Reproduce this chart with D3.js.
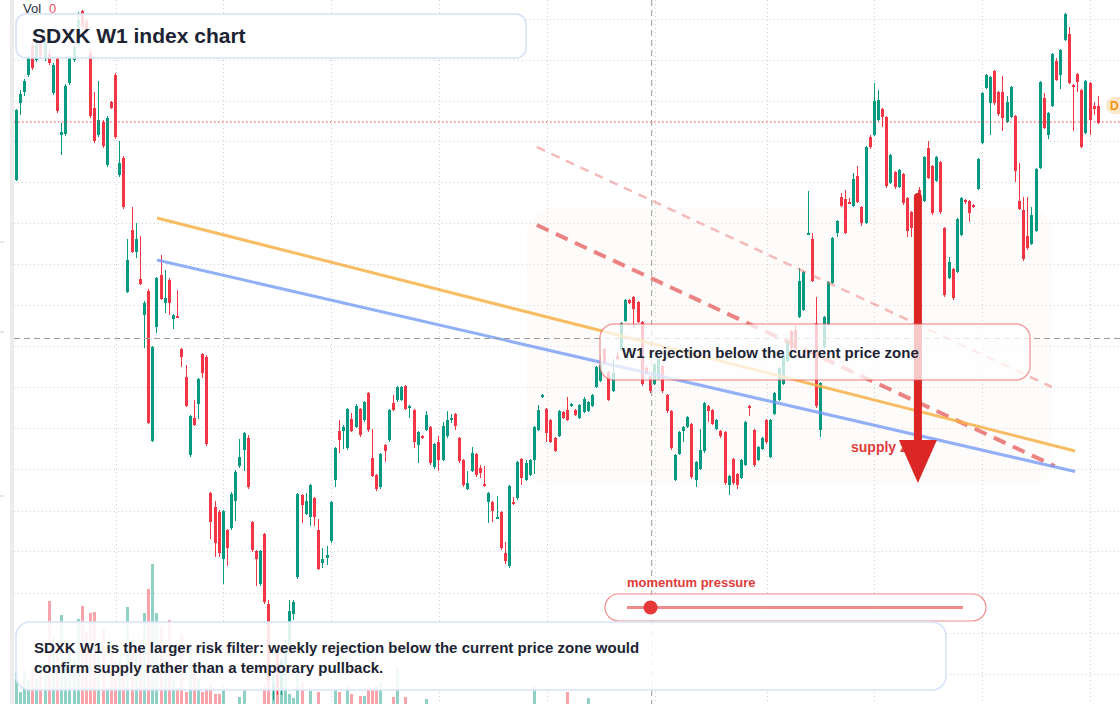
<!DOCTYPE html>
<html>
<head>
<meta charset="utf-8">
<script src="https://cdn.jsdelivr.net/npm/d3@7"></script>
<style>
  body { margin: 0; background: #fff; }
  svg { display: block; }
</style>
</head>
<body>
<div id="chart"></div>
<script>
// weekly candles, oldest first
const open = [820,897,908,925,955,940,958,942,946,907,942,865,866,917,940,955,989,979,948,892,
865,878,835,898,925,825,842,708,770,748,721,685,709,559,673,725,697,720,681,684,
651,623,545,582,596,646,643,507,493,488,441,470,472,499,534,550,562,478,449,416,
466,396,310,350,310,335,355,386,423,505,486,483,502,470,437,442,459,520,569,569,
552,581,573,591,580,607,542,525,513,555,560,597,600,600,614,592,590,555,564,570,
573,533,558,540,564,580,586,562,540,511,529,546,532,516,498,498,482,488,447,434,
498,502,541,520,525,540,570,603,591,580,562,564,588,590,594,590,582,588,589,594,
613,619,651,628,609,644,650,679,700,703,698,678,632,623,616,621,634,605,589,520,
546,569,573,576,520,531,549,594,590,571,569,568,515,541,526,522,535,594,570,540,
551,580,543,586,600,616,639,669,670,683,690,766,761,677,570,653,675,717,767,803,
801,798,794,824,793,777,863,865,880,891,883,817,828,813,826,802,788,800,810,799,
852,834,819,838,772,722,731,728,765,800,799,795,811,857,912,897,929,908,908,878,
883,884,799,790,764,756,769,832,902,865,894,939,925,960,966,915,926,910,867,917,
894,894];
const high = [891,910,921,945,958,960,962,961,950,937,945,877,916,944,956,988,990,981,950,908,
919,880,884,899,927,859,844,761,793,777,764,699,711,654,723,745,730,722,686,710,
652,635,585,600,622,647,645,508,499,490,490,471,508,530,561,568,565,479,450,450,
467,400,325,355,345,360,400,400,507,506,507,516,503,481,452,454,499,553,580,575,
592,587,596,592,599,608,571,526,547,556,591,605,614,614,615,595,591,569,565,589,
574,557,564,578,589,586,587,563,541,529,553,547,535,534,508,499,504,489,458,515,
503,539,542,540,541,574,595,606,592,581,563,590,589,603,597,591,596,603,599,606,
634,643,652,629,641,648,678,701,701,704,699,679,634,624,637,642,635,606,590,546,
569,574,584,577,539,571,598,595,591,581,570,569,525,542,527,541,579,595,571,554,
563,581,581,608,633,646,660,670,675,732,729,809,767,703,618,684,719,763,780,807,
810,802,827,834,794,854,865,917,910,892,884,846,829,831,827,803,789,805,813,844,
859,835,844,839,773,743,732,782,803,801,800,796,842,908,926,924,930,909,924,904,
914,885,837,803,803,793,832,919,907,888,947,942,951,987,973,916,927,911,920,918,
898,904];
const low = [819,885,904,923,930,938,942,939,935,905,887,845,864,915,938,953,970,965,882,857,
863,852,833,891,861,823,791,707,747,742,715,652,576,558,667,700,687,685,671,682,
633,593,543,574,581,622,554,461,443,443,416,434,470,479,532,529,511,448,414,414,
396,310,300,305,305,330,350,380,421,477,485,474,474,430,432,435,457,513,547,551,
550,568,572,563,578,568,523,509,511,538,558,589,598,599,590,582,552,537,561,569,
535,531,529,539,562,577,570,537,513,510,528,523,522,513,477,478,481,450,436,432,
495,500,515,519,524,526,569,602,558,557,548,563,581,579,593,584,581,587,588,593,
612,618,635,599,608,640,649,678,696,673,677,614,625,607,615,620,607,587,550,519,
545,558,572,521,513,530,547,578,575,570,562,515,505,515,511,521,534,584,533,539,
550,556,542,585,599,615,638,650,649,682,689,765,718,592,563,652,674,716,763,793,
766,796,793,797,774,776,851,864,879,873,812,816,811,812,795,763,763,773,783,798,
821,785,818,786,703,721,700,727,764,796,778,792,810,856,911,865,895,884,869,877,
882,818,790,739,750,755,768,831,871,861,893,919,911,959,916,869,908,852,866,865,
885,876];
const close = [890,906,919,942,932,956,945,958,937,935,889,868,914,942,953,980,973,967,884,859,
880,854,882,892,863,837,793,740,748,761,716,697,577,653,722,701,702,697,685,683,
643,594,584,575,621,627,556,478,457,447,489,452,506,528,543,567,513,450,441,449,
398,320,317,312,340,355,389,398,506,495,499,515,483,431,441,445,498,552,560,573,
591,569,594,565,598,570,524,511,546,549,590,590,613,613,591,594,558,568,562,585,
537,556,540,574,580,582,574,539,515,517,547,525,527,514,507,489,483,452,439,514,
496,538,522,537,540,573,590,605,567,558,549,589,582,580,596,585,595,601,598,605,
633,635,636,600,627,641,677,700,697,691,678,616,627,609,636,641,609,589,552,545,
568,573,583,523,538,550,597,589,576,580,564,517,524,517,515,540,578,592,535,553,
562,558,580,607,632,645,659,652,651,719,728,767,719,594,617,683,718,762,779,794,
767,797,821,798,777,853,853,899,900,883,814,845,813,830,797,769,772,775,785,843,
822,787,843,788,705,738,702,781,802,798,787,793,841,907,925,923,897,886,882,898,
913,829,791,741,752,785,831,918,872,887,946,920,950,986,917,913,918,853,919,880,
891,877];
const volume = [320,120,330,240,340,250,340,390,1030,670,560,890,390,540,460,850,980,730,910,920,
560,760,170,510,440,460,390,970,640,540,620,910,1150,1400,910,770,440,840,250,160,
700,120,540,440,250,120,170,210,100,100,190,0,0,0,70,150,0,0,0,0,
190,400,300,500,220,460,100,60,340,220,0,130,0,120,0,0,0,140,120,0,
180,100,0,80,80,180,140,180,210,0,0,70,360,0,70,0,0,0,0,50,
0,0,0,0,0,0,0,0,0,0,0,0,0,0,0,0,0,0,0,0,
0,0,0,0,0,180,0,0,0,0,0,0,0,120,0,0,0,0,60,0,
0,0,0,0,0,0,0,0,0,0,0,0,0,0,0,0,0,0,0,0,
0,0,0,0,0,0,0,0,0,0,0,0,0,0,0,0,0,0,0,0,
0,0,0,0,0,0,0,0,0,0,0,0,0,0,0,0,0,0,0,0,
0,0,0,0,0,0,0,0,0,0,0,0,0,0,0,0,0,0,0,0,
0,0,0,0,0,0,0,0,0,0,0,0,0,0,0,0,0,0,0,0,
0,0,0,0,0,0,0,0,0,0,0,0,0,0,0,0,0,0,0,0,
0,0];

// grid levels (price) and time ticks (candle index)
const gridPrices = [981,940,899,859,818,777,736,695,654,613,572,531,489,449,407,367,326];
const gridIdx = [24,50,76,102,128,154,181,207,233,259];
const axisMarks = [758,668,504];

// drawings: [candle index, price]
const orangeLine = [[34,782],[255.4,549]];
const blueLine = [[34,740],[255.4,528.5]];
const channelHigh = [[125.6,853],[249.8,613]];
const channelLow = [[125.6,775],[250.5,534]];
const zoneIdx = [123.2,249.8];
const zonePrice = [792,515];
const arrowIdx = 217.5;
const arrowPrice = [807,517];
const crossIdx = 153.3;
const crossPrice = 661.5;
const lastLevel = 878;
const momentum = 0.07;

const w = 1120, h = 704;
const upCol = "#089981", dnCol = "#f23645";
const font = "'Liberation Sans', Arial, sans-serif";
const ink = "#1c2433";

let svg = d3.select("#chart").append("svg")
  .attr("width", w).attr("height", h)
  .style("background-color", "white");

let xs = d3.scaleLinear().domain([0, open.length - 1]).range([16, 1098.3]);
let ys = d3.scaleLinear().domain([296, 1000]).range([h, 0]);
let vs = d3.scaleLinear().domain([0, 1500]).range([h, h - 150]);

// left pane edge
svg.append("rect").attr("x", 10).attr("y", 0).attr("width", 4).attr("height", h).attr("fill", "#ececec");
svg.selectAll(".amark").data(axisMarks).join("line")
  .attr("x1", 0).attr("x2", 4).attr("y1", d => ys(d)).attr("y2", d => ys(d))
  .attr("stroke", "#cfcfcf");

// grid
svg.selectAll(".hgrid").data(gridPrices).join("line")
  .attr("x1", 14).attr("x2", w)
  .attr("y1", d => Math.round(ys(d)) + 0.5).attr("y2", d => Math.round(ys(d)) + 0.5)
  .attr("stroke", "#cfd3d8").attr("stroke-dasharray", "1,3");
svg.selectAll(".vgrid").data(gridIdx).join("line")
  .attr("x1", d => Math.round(xs(d)) + 0.5).attr("x2", d => Math.round(xs(d)) + 0.5)
  .attr("y1", 0).attr("y2", h)
  .attr("stroke", "#cfd3d8").attr("stroke-dasharray", "1,3");

// faint zone
svg.append("rect")
  .attr("x", xs(zoneIdx[0])).attr("y", ys(zonePrice[0]))
  .attr("width", xs(zoneIdx[1]) - xs(zoneIdx[0]))
  .attr("height", ys(zonePrice[1]) - ys(zonePrice[0]))
  .attr("rx", 22)
  .attr("fill", "rgba(245,218,198,0.09)");

let idx = d3.range(open.length);
let isUp = i => close[i] >= open[i];

// volume
svg.append("g").selectAll("rect").data(idx.filter(i => volume[i] > 0)).join("rect")
  .attr("x", i => xs(i) - 1.5).attr("width", 3)
  .attr("y", i => vs(volume[i])).attr("height", i => h - vs(volume[i]))
  .attr("fill", i => isUp(i) ? "rgba(8,153,129,0.45)" : "rgba(242,54,69,0.45)")
  .attr("shape-rendering", "crispEdges");

// candles
let cg = svg.append("g").attr("shape-rendering", "crispEdges");
cg.selectAll(".wick").data(idx).join("rect").attr("class", "wick")
  .attr("x", i => xs(i) - 0.5).attr("width", 1)
  .attr("y", i => ys(high[i]))
  .attr("height", i => Math.max(1, ys(low[i]) - ys(high[i])))
  .attr("fill", i => isUp(i) ? upCol : dnCol);
cg.selectAll(".body").data(idx).join("rect").attr("class", "body")
  .attr("x", i => xs(i) - 1.5).attr("width", 3)
  .attr("y", i => ys(Math.max(open[i], close[i])))
  .attr("height", i => Math.max(1.5, Math.abs(ys(open[i]) - ys(close[i]))))
  .attr("fill", i => isUp(i) ? upCol : dnCol);

// trend lines
let lineMaker = d3.line().x(d => xs(d[0])).y(d => ys(d[1]));
svg.append("path").attr("d", lineMaker(channelHigh)).attr("fill", "none")
  .attr("stroke", "rgba(236,120,120,0.5)").attr("stroke-width", 2.5).attr("stroke-dasharray", "9,7");
svg.append("path").attr("d", lineMaker(channelLow)).attr("fill", "none")
  .attr("stroke", "rgba(228,80,80,0.7)").attr("stroke-width", 4).attr("stroke-dasharray", "13,8");
svg.append("path").attr("d", lineMaker(orangeLine)).attr("fill", "none")
  .attr("stroke", "rgba(247,178,72,0.85)").attr("stroke-width", 3);
svg.append("path").attr("d", lineMaker(blueLine)).attr("fill", "none")
  .attr("stroke", "rgba(110,150,245,0.75)").attr("stroke-width", 3);

// crosshair
svg.append("line")
  .attr("x1", 14).attr("x2", w).attr("y1", ys(crossPrice)).attr("y2", ys(crossPrice))
  .attr("stroke", "#9b9b9b").attr("stroke-dasharray", "6,4");
svg.append("line")
  .attr("x1", xs(crossIdx)).attr("x2", xs(crossIdx)).attr("y1", 0).attr("y2", h)
  .attr("stroke", "#9b9b9b").attr("stroke-dasharray", "6,4");

// last price level
svg.append("line")
  .attr("x1", 14).attr("x2", w).attr("y1", ys(lastLevel)).attr("y2", ys(lastLevel))
  .attr("stroke", "#f23645").attr("stroke-dasharray", "1.5,2.5");
svg.append("rect").attr("x", 1106).attr("y", ys(lastLevel) - 25).attr("width", 30).attr("height", 17)
  .attr("rx", 8.5).attr("fill", "#fde7cb");
svg.append("text").attr("x", 1110).attr("y", ys(lastLevel) - 12).text("D")
  .attr("font-family", font).attr("font-size", 12).attr("font-weight", 700).attr("fill", "#f0930e");

// title
svg.append("rect").attr("x", 16).attr("y", 14).attr("width", 510).attr("height", 44).attr("rx", 10)
  .attr("fill", "rgba(255,255,255,0.83)").attr("stroke", "#d3e1f7").attr("stroke-width", 1.5);
svg.append("text").attr("x", 32).attr("y", 43).text("SDXK W1 index chart")
  .attr("font-family", font).attr("font-size", 21).attr("font-weight", 700).attr("fill", ink);

// supply label and arrow
svg.append("text").attr("x", 851).attr("y", 452).text("supply zone")
  .attr("font-family", font).attr("font-size", 14).attr("font-weight", 700).attr("fill", "#e03b3b");
let ax = xs(arrowIdx);
let headTop = ys(arrowPrice[1]) - 43;
svg.append("line").attr("x1", ax).attr("x2", ax)
  .attr("y1", ys(arrowPrice[0]) + 4).attr("y2", headTop + 4)
  .attr("stroke", "#dc2626").attr("stroke-width", 8).attr("stroke-linecap", "round");
svg.append("path")
  .attr("d", `M${ax - 19},${headTop} L${ax + 19},${headTop} L${ax},${ys(arrowPrice[1])} Z`)
  .attr("fill", "#dc2626");

// callout
svg.append("rect").attr("x", 600).attr("y", 324).attr("width", 430).attr("height", 56).attr("rx", 14)
  .attr("fill", "rgba(255,255,255,0.75)").attr("stroke", "rgba(232,80,80,0.5)").attr("stroke-width", 1.5);
svg.append("text").attr("x", 622).attr("y", 358).text("W1 rejection below the current price zone")
  .attr("font-family", font).attr("font-size", 15).attr("font-weight", 700).attr("fill", ink);

// momentum gauge
svg.append("text").attr("x", 627).attr("y", 587).text("momentum pressure")
  .attr("font-family", font).attr("font-size", 13).attr("font-weight", 700).attr("fill", "#e03b3b");
svg.append("rect").attr("x", 605).attr("y", 594).attr("width", 381).attr("height", 27).attr("rx", 13.5)
  .attr("fill", "rgba(255,255,255,0.85)").attr("stroke", "rgba(232,80,80,0.65)").attr("stroke-width", 1.2);
let ms = d3.scaleLinear().domain([0, 1]).range([627, 963]);
svg.append("line").attr("x1", ms(0)).attr("x2", ms(1)).attr("y1", 607.5).attr("y2", 607.5)
  .attr("stroke", "rgba(230,90,90,0.7)").attr("stroke-width", 3);
svg.append("circle").attr("cx", ms(momentum)).attr("cy", 607.5).attr("r", 7).attr("fill", "#e53838");

// note
svg.append("rect").attr("x", 16).attr("y", 622).attr("width", 930).attr("height", 68).attr("rx", 14)
  .attr("fill", "rgba(255,255,255,0.88)").attr("stroke", "#d6e3fa").attr("stroke-width", 1.5);
let note = svg.append("text").attr("font-family", font).attr("font-size", 15)
  .attr("font-weight", 700).attr("fill", ink);
note.append("tspan").attr("x", 34).attr("y", 653)
  .text("SDXK W1 is the larger risk filter: weekly rejection below the current price zone would");
note.append("tspan").attr("x", 34).attr("y", 673)
  .text("confirm supply rather than a temporary pullback.");

// volume legend
let vl = svg.append("text").attr("x", 23).attr("y", 13).attr("font-family", font).attr("font-size", 13);
vl.append("tspan").text("Vol").attr("fill", "#2a2e39");
vl.append("tspan").attr("x", 49).text("0").attr("fill", "#f7525f");
</script>
</body>
</html>
